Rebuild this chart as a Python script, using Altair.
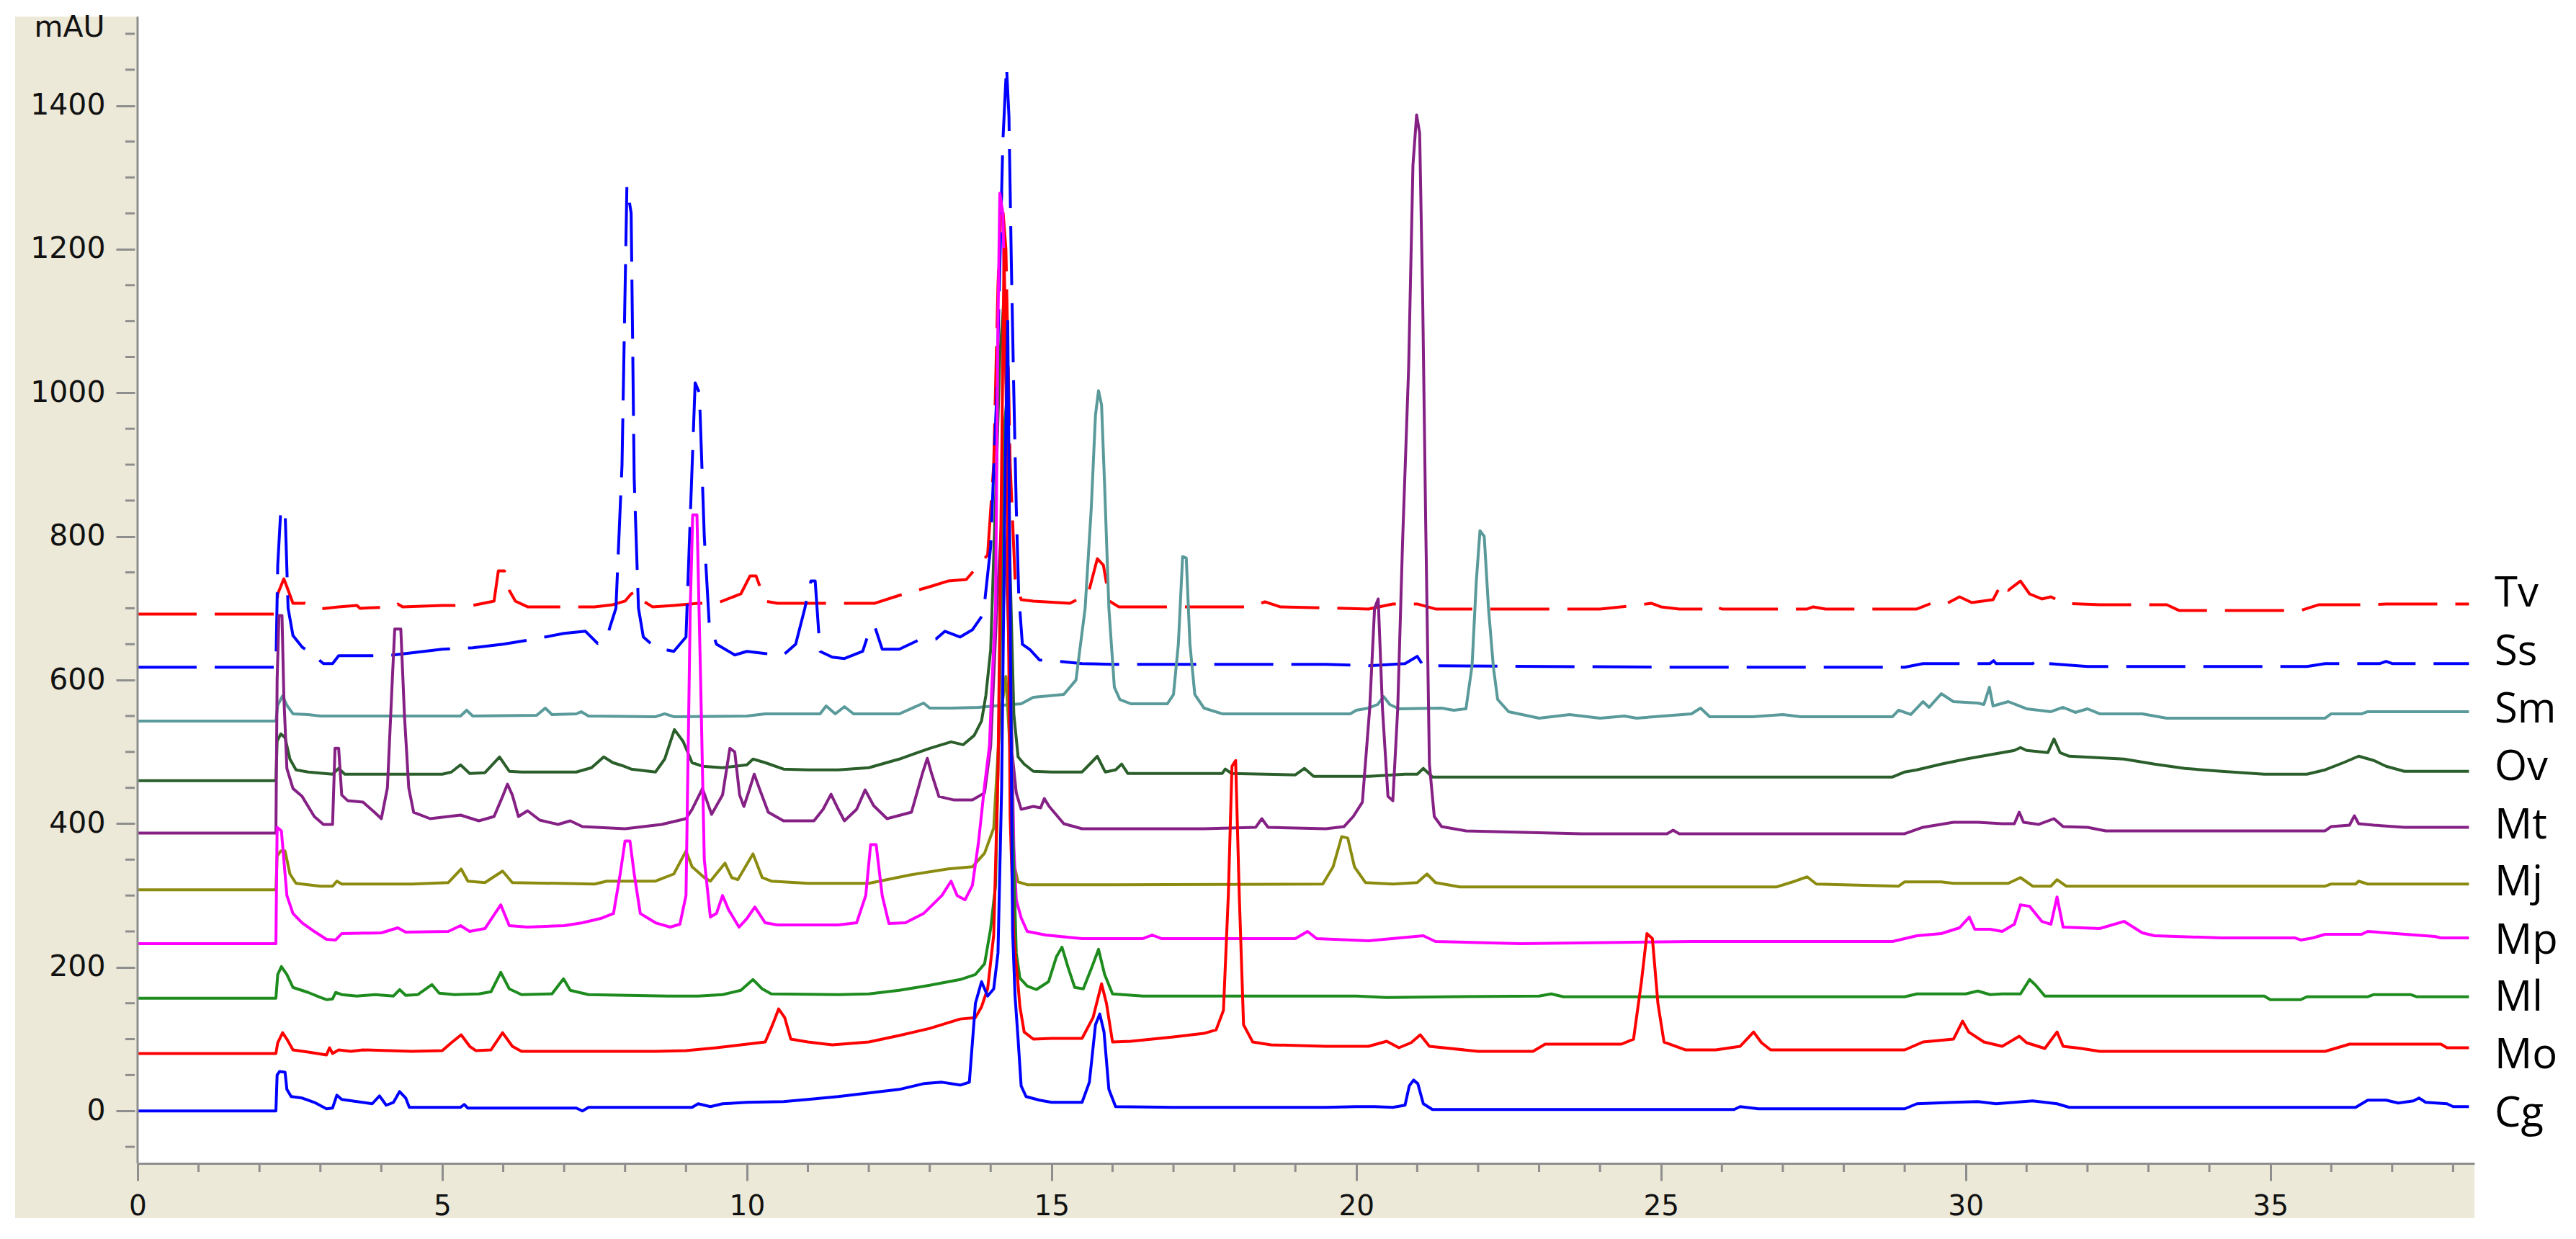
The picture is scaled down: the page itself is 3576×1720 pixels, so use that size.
import altair as alt
import pandas as pd

# ---------------- data ----------------
SERIES = ["Tv", "Ss", "Sm", "Ov", "Mt", "Mj", "Mp", "Ml", "Mo", "Cg"]

TV = [(0,692),(2.27,692),(2.3,720),(2.4,741),(2.45,730),(2.55,707),(2.75,707),(3.0,699),(3.3,702),(3.6,704),(3.65,700),
      (4.2,702),(4.27,706),(4.35,702),(5.0,704),(5.5,704),(5.85,710),(5.92,752),(6.02,752),(6.1,725),(6.2,710),(6.4,702),
      (7.5,702),(7.8,705),(8.0,710),(8.1,720),(8.2,724),(8.3,710),(8.45,702),(8.8,704),(9.2,707),(9.5,707),(9.9,720),
      (10.05,745),(10.15,745),(10.3,710),(10.5,707),(11.5,707),(12.1,707),(12.5,718),(13.0,730),(13.3,738),(13.6,740),
      (13.85,765),(13.95,774),(14.05,900),(14.12,1150),(14.18,1278),(14.25,1200),(14.32,900),(14.4,742),(14.5,712),
      (14.7,710),(15.3,707),(15.6,720),(15.75,769),(15.85,760),(15.95,710),(16.1,702),(18.3,702),(18.5,709),(18.75,702),
      (20.2,699),(20.6,706),(21.0,706),(21.3,699),(24.0,699),(24.6,704),(24.84,707),(25.0,702),(25.3,699),(25.8,699),
      (25.85,703),(26.0,699),(27.4,699),(27.5,702),(27.7,699),(29.2,699),(29.5,709),(29.7,707),(29.9,716),(30.1,708),
      (30.45,712),(30.6,736),(30.7,725),(30.9,738),(31.05,720),(31.25,713),(31.4,716),(31.6,707),(32.2,705),(33.3,705),
      (33.5,697),(35.5,697),(35.8,705),(36.7,705),(36.9,706),(38.26,706)]

SS = [(0,618),(2.27,618),(2.3,760),(2.35,837),(2.42,837),(2.47,700),(2.55,662),(2.7,646),(2.85,637),(3.05,623),(3.2,623),
      (3.3,634),(4.0,634),(4.2,635),(5.0,643),(5.5,645),(6.0,650),(6.5,657),(7.0,665),(7.35,668),(7.55,651),(7.7,660),
      (7.85,700),(7.95,900),(8.03,1288),(8.1,1250),(8.15,880),(8.22,700),(8.3,660),(8.5,645),(8.8,640),(9.0,660),
      (9.08,850),(9.15,1014),(9.22,1000),(9.3,800),(9.38,680),(9.5,650),(9.8,635),(10.0,640),(10.3,637),(10.6,635),
      (10.8,650),(10.95,700),(11.05,738),(11.12,738),(11.2,640),(11.4,632),(11.6,630),(11.9,640),(12.03,674),(12.1,674),
      (12.22,643),(12.5,643),(12.8,655),(13.1,657),(13.25,668),(13.5,660),(13.7,670),(13.88,692),(14.0,786),(14.1,1000),
      (14.2,1350),(14.26,1455),(14.3,1385),(14.34,1177),(14.38,1000),(14.42,840),(14.46,720),(14.52,650),(14.65,642),
      (14.8,628),(15.0,627),(15.5,623),(16.0,622),(19.5,622),(20.2,620),(20.8,623),(21.0,633),(21.1,620),(25.0,618),
      (29.0,618),(29.3,623),(30.4,623),(30.46,627),(30.5,623),(31.1,623),(31.24,630),(31.35,623),(32.0,619),(35.6,619),
      (35.9,623),(36.8,623),(36.9,626),(37.0,623),(38.26,623)]

SM = [(0,543),(2.27,543),(2.3,565),(2.38,578),(2.45,565),(2.55,553),(2.8,552),(3.0,550),(5.3,550),(5.4,558),(5.5,550),
      (6.55,551),(6.69,561),(6.8,552),(7.2,553),(7.28,556),(7.4,550),(8.5,549),(8.65,553),(8.8,549),(10.0,550),(10.3,553),
      (11.2,553),(11.3,564),(11.45,553),(11.6,563),(11.75,553),(12.5,553),(12.9,568),(13.0,561),(13.35,561),(13.8,562),
      (14.2,565),(14.5,567),(14.7,576),(15.2,580),(15.4,600),(15.55,700),(15.65,838),(15.72,969),(15.77,1003),
      (15.82,983),(15.87,871),(15.94,700),(16.03,590),(16.12,573),(16.3,567),(16.9,567),(17.0,580),(17.08,650),
      (17.15,772),(17.21,770),(17.27,650),(17.35,580),(17.5,561),(17.8,553),(19.9,553),(20.0,558),(20.2,561),(20.35,566),
      (20.45,577),(20.55,566),(20.7,560),(21.4,561),(21.6,558),(21.8,560),(21.9,620),(21.97,738),(22.03,808),(22.1,800),
      (22.17,700),(22.25,618),(22.32,573),(22.5,556),(23.0,547),(23.5,552),(24.0,547),(24.4,550),(24.6,547),(25.5,553),
      (25.65,561),(25.8,549),(26.5,549),(27.0,552),(27.3,549),(28.8,549),(28.9,558),(29.1,552),(29.3,570),(29.4,562),
      (29.6,581),(29.8,570),(30.2,568),(30.3,566),(30.39,590),(30.45,564),(30.7,570),(31.0,560),(31.4,556),(31.6,562),
      (31.8,555),(32.0,560),(32.2,553),(32.9,553),(33.3,547),(35.9,547),(36.0,553),(36.5,553),(36.6,556),(38.26,556)]

OV = [(0,460),(2.27,460),(2.29,515),(2.35,525),(2.42,520),(2.5,490),(2.6,475),(2.8,472),(3.2,469),(3.3,477),(3.4,469),
      (5.0,469),(5.15,472),(5.3,482),(5.45,470),(5.7,471),(5.94,493),(6.1,473),(6.3,472),(7.2,472),(7.45,478),(7.65,493),
      (7.8,485),(7.95,481),(8.1,476),(8.5,472),(8.65,490),(8.81,531),(8.95,515),(9.1,485),(9.27,480),(9.6,478),(10.0,482),
      (10.1,490),(10.3,485),(10.6,476),(11.0,475),(11.5,475),(12.0,478),(12.5,490),(13.0,505),(13.35,514),(13.55,510),
      (13.73,523),(13.85,543),(13.92,578),(14.0,642),(14.08,850),(14.15,1050),(14.21,1121),(14.26,1000),(14.32,750),
      (14.38,553),(14.45,493),(14.55,483),(14.7,473),(15.0,472),(15.5,472),(15.65,485),(15.75,494),(15.88,472),
      (16.05,475),(16.15,483),(16.25,470),(17.8,470),(17.85,476),(17.95,470),(19.0,468),(19.15,477),(19.3,466),
      (20.2,466),(20.8,469),(21.0,469),(21.1,477),(21.25,465),(28.8,465),(29.0,472),(29.2,475),(29.6,483),(30.0,490),
      (30.4,496),(30.8,502),(30.9,506),(31.0,502),(31.35,499),(31.45,518),(31.55,499),(31.7,494),(32.6,490),(33.1,483),
      (33.6,477),(34.2,473),(34.9,469),(35.6,469),(35.9,475),(36.2,485),(36.45,494),(36.7,488),(36.9,480),(37.2,473),
      (38.26,473)]

MT = [(0,387),(2.27,387),(2.29,600),(2.32,690),(2.37,690),(2.4,578),(2.45,477),(2.55,449),(2.7,438),(2.9,410),(3.05,399),
      (3.2,399),(3.24,505),(3.3,505),(3.35,440),(3.45,432),(3.7,430),(3.9,415),(4.0,407),(4.1,450),(4.18,600),(4.22,671),
      (4.32,671),(4.38,550),(4.45,450),(4.53,416),(4.8,407),(5.3,412),(5.6,404),(5.85,410),(6.0,440),(6.07,455),
      (6.15,440),(6.25,410),(6.4,418),(6.6,405),(6.9,399),(7.1,404),(7.3,396),(8.0,393),(8.6,399),(9.0,407),(9.1,420),
      (9.27,449),(9.35,430),(9.42,413),(9.6,440),(9.72,505),(9.8,500),(9.88,440),(9.95,424),(10.05,450),(10.12,469),
      (10.2,450),(10.35,416),(10.6,404),(11.1,404),(11.25,420),(11.38,441),(11.5,420),(11.6,404),(11.8,420),(11.94,447),
      (12.08,425),(12.3,407),(12.7,416),(12.88,470),(12.96,491),(13.03,470),(13.15,438),(13.4,433),(13.7,433),
      (13.9,443),(14.0,508),(14.1,700),(14.2,855),(14.28,700),(14.35,500),(14.42,443),(14.5,420),(14.7,424),(14.82,422),
      (14.88,435),(14.96,424),(15.2,400),(15.5,393),(17.5,393),(18.35,395),(18.45,407),(18.55,395),(19.5,393),
      (19.8,396),(19.95,410),(20.1,430),(20.22,560),(20.3,700),(20.36,713),(20.43,560),(20.52,438),(20.6,432),
      (20.68,560),(20.76,793),(20.86,1037),(20.93,1317),(20.99,1387),(21.04,1362),(21.09,1129),(21.14,815),
      (21.2,483),(21.28,410),(21.4,396),(21.8,390),(23.7,386),(25.1,386),(25.2,391),(25.3,386),(29.0,386),(29.3,395),
      (29.8,402),(30.2,402),(30.6,400),(30.8,400),(30.88,416),(30.95,402),(31.2,399),(31.45,407),(31.6,396),(32.0,395),
      (32.3,390),(35.9,390),(36.0,396),(36.3,398),(36.38,411),(36.45,400),(36.7,398),(37.2,395),(37.6,395),(38.26,395)]

MJ = [(0,308),(2.27,308),(2.29,355),(2.35,362),(2.42,362),(2.5,330),(2.6,317),(3.0,313),(3.2,313),(3.27,320),(3.35,316),
      (4.5,316),(5.1,318),(5.31,337),(5.42,320),(5.7,318),(5.99,334),(6.15,318),(7.5,316),(7.7,320),(8.5,320),(8.8,330),
      (9.0,362),(9.1,340),(9.3,325),(9.4,320),(9.64,345),(9.75,325),(9.85,322),(10.1,358),(10.25,325),(10.4,320),
      (11.0,317),(12.0,317),(12.7,329),(13.3,337),(13.7,340),(13.9,359),(14.05,394),(14.15,543),(14.25,605),(14.32,500),
      (14.38,344),(14.45,319),(14.6,315),(16.0,315),(19.45,316),(19.62,340),(19.76,382),(19.86,380),(19.97,340),
      (20.15,318),(20.6,316),(21.0,318),(21.16,330),(21.3,318),(21.7,312),(26.9,312),(27.2,320),(27.4,326),(27.55,316),
      (28.9,313),(29.0,319),(29.6,319),(29.8,317),(30.7,317),(30.9,325),(31.1,313),(31.4,313),(31.5,322),(31.65,313),
      (35.9,313),(36.0,316),(36.4,316),(36.45,320),(36.6,316),(38.26,316)]

MP = [(0,233),(2.27,233),(2.29,395),(2.36,390),(2.45,300),(2.55,275),(2.7,262),(2.9,250),(3.1,239),(3.25,238),(3.35,247),
      (4.0,248),(4.27,255),(4.4,249),(5.1,250),(5.3,258),(5.45,250),(5.7,254),(5.96,287),(6.1,258),(6.4,256),(7.0,258),
      (7.3,262),(7.6,268),(7.81,275),(7.92,330),(8.0,376),(8.08,376),(8.15,330),(8.25,275),(8.5,262),(8.74,256),
      (8.9,260),(9.0,300),(9.07,700),(9.11,830),(9.18,830),(9.24,600),(9.3,350),(9.4,270),(9.5,275),(9.6,300),(9.7,280),
      (9.87,256),(10.0,268),(10.13,284),(10.3,262),(10.5,259),(11.5,259),(11.8,262),(11.95,300),(12.03,371),(12.12,371),
      (12.22,300),(12.33,261),(12.6,262),(12.9,275),(13.2,300),(13.35,320),(13.45,300),(13.58,294),(13.7,314),
      (13.8,374),(13.9,453),(13.98,508),(14.02,593),(14.08,700),(14.12,1100),(14.15,1278),(14.2,1250),(14.26,1000),
      (14.33,600),(14.38,369),(14.42,294),(14.5,269),(14.6,250),(14.9,245),(15.5,240),(16.5,240),(16.65,245),(16.8,240),
      (19.0,240),(19.2,250),(19.35,240),(20.2,237),(21.1,244),(21.3,236),(22.7,233),(25.5,236),(26.3,236),(28.8,236),
      (29.2,244),(29.6,247),(29.9,255),(30.06,270),(30.15,253),(30.4,253),(30.6,250),(30.8,260),(30.9,287),(31.05,285),
      (31.25,264),(31.4,260),(31.5,298),(31.6,256),(32.2,254),(32.6,264),(32.9,248),(33.1,244),(34.2,241),(35.4,241),
      (35.5,238),(35.7,241),(35.9,246),(36.5,246),(36.6,250),(37.7,243),(37.8,241),(38.26,241)]

ML = [(0,157),(2.27,157),(2.3,190),(2.36,201),(2.45,190),(2.55,172),(2.8,165),(3.0,158),(3.1,155),(3.2,156),(3.25,165),
      (3.35,162),(3.6,160),(3.9,162),(4.2,160),(4.3,169),(4.4,161),(4.6,162),(4.83,176),(4.95,164),(5.2,162),(5.6,163),
      (5.8,166),(5.96,193),(6.1,170),(6.3,162),(6.8,163),(6.99,184),(7.1,168),(7.4,162),(8.7,160),(9.2,160),(9.6,162),
      (9.9,168),(10.1,183),(10.25,170),(10.4,163),(11.5,162),(12.0,163),(12.5,168),(13.0,175),(13.5,183),(13.75,190),
      (13.9,205),(14.0,254),(14.08,314),(14.15,600),(14.22,950),(14.26,985),(14.3,800),(14.36,400),(14.42,220),
      (14.48,185),(14.6,174),(14.75,169),(14.95,180),(15.08,215),(15.17,228),(15.27,200),(15.38,172),(15.52,170),
      (15.66,200),(15.77,225),(15.87,190),(16.0,163),(16.5,160),(20.0,160),(20.5,158),(21.5,159),(23.0,160),(23.2,163),
      (23.4,159),(29.0,159),(29.2,163),(30.0,163),(30.2,167),(30.4,162),(30.6,163),(30.9,163),(31.05,183),(31.15,175),
      (31.3,160),(34.9,160),(35.0,155),(35.5,155),(35.6,159),(36.6,159),(36.7,162),(37.3,162),(37.4,159),(38.26,159)]

MO = [(0,80),(2.27,80),(2.3,95),(2.38,109),(2.45,100),(2.55,85),(2.8,82),(3.1,78),(3.15,88),(3.2,80),(3.3,85),(3.5,83),
      (3.7,85),(4.5,83),(5.0,84),(5.15,95),(5.31,106),(5.45,90),(5.55,84),(5.8,85),(5.99,109),(6.15,90),(6.3,83),
      (8.5,83),(9.0,84),(9.5,88),(10.0,93),(10.3,96),(10.42,120),(10.52,142),(10.62,130),(10.72,100),(11.0,96),
      (11.4,92),(12.0,96),(12.5,105),(13.0,115),(13.5,128),(13.75,130),(13.85,145),(13.95,170),(14.05,245),(14.12,470),
      (14.18,900),(14.22,1200),(14.27,900),(14.32,409),(14.38,240),(14.44,185),(14.48,145),(14.55,110),(14.7,100),
      (15.0,101),(15.5,101),(15.68,130),(15.82,177),(15.9,150),(16.0,96),(16.3,97),(17.0,103),(17.5,108),(17.7,113),
      (17.82,140),(17.9,300),(17.96,480),(18.02,488),(18.08,300),(18.15,120),(18.3,96),(18.6,92),(19.5,90),(20.2,90),
      (20.5,97),(20.7,88),(20.9,95),(21.05,106),(21.2,90),(22.0,83),(22.9,83),(23.1,93),(24.35,93),(24.55,100),
      (24.68,180),(24.77,247),(24.86,240),(24.95,150),(25.05,96),(25.4,85),(25.9,85),(26.3,90),(26.52,110),(26.65,95),
      (26.8,85),(29.0,85),(29.3,96),(29.8,100),(29.95,125),(30.05,110),(30.3,96),(30.6,90),(30.88,104),(31.0,95),
      (31.3,87),(31.5,110),(31.6,90),(31.9,87),(32.2,83),(35.9,83),(36.3,93),(37.8,93),(37.9,88),(38.26,88)]

CG = [(0,0),(2.27,0),(2.29,50),(2.33,55),(2.42,54),(2.45,30),(2.52,20),(2.7,18),(2.9,12),(3.1,3),(3.2,4),(3.27,22),
      (3.35,16),(3.6,13),(3.85,10),(3.97,21),(4.08,8),(4.2,12),(4.3,27),(4.4,18),(4.46,5),(5.3,5),(5.36,9),(5.42,4),
      (7.2,4),(7.3,0),(7.4,5),(8.5,5),(9.1,5),(9.2,10),(9.4,6),(9.6,10),(10.0,12),(10.6,13),(11.0,16),(11.5,20),
      (12.0,25),(12.5,30),(12.9,38),(13.2,40),(13.5,36),(13.65,40),(13.75,150),(13.85,180),(13.95,160),(14.05,170),
      (14.12,220),(14.18,450),(14.24,900),(14.28,1100),(14.32,700),(14.36,250),(14.4,160),(14.45,100),(14.5,35),
      (14.58,20),(14.8,15),(15.0,12),(15.5,12),(15.62,40),(15.72,120),(15.79,135),(15.86,110),(15.94,30),(16.05,6),
      (17.0,5),(19.5,5),(20.0,6),(20.3,6),(20.6,5),(20.8,8),(20.87,35),(20.94,43),(21.01,38),(21.1,10),(21.25,2),
      (26.2,2),(26.3,6),(26.6,3),(29.0,3),(29.2,10),(29.8,12),(30.2,13),(30.5,10),(30.8,12),(31.1,14),(31.5,10),
      (31.7,5),(36.4,5),(36.6,15),(36.9,15),(37.1,11),(37.35,14),(37.44,18),(37.55,12),(37.9,10),(38.0,6),(38.26,6)]

TRACES = {"Tv": TV, "Ss": SS, "Sm": SM, "Ov": OV, "Mt": MT, "Mj": MJ, "Mp": MP, "Ml": ML, "Mo": MO, "Cg": CG}

COLORS = {"Tv": "#FF0000", "Ss": "#0000FF", "Sm": "#5A9A9A", "Ov": "#2A5E2A", "Mt": "#852085",
          "Mj": "#8B8B10", "Mp": "#FF00FF", "Ml": "#1E8B1E", "Mo": "#FF0000", "Cg": "#0000FF"}
DASHED = ["Tv", "Ss"]

# label anchors (mAU)
LABEL_MAU = [719, 638, 558, 478, 396, 317, 236, 157, 76, -5]

Y_MAJOR = [0, 200, 400, 600, 800, 1000, 1200, 1400]
Y_MINOR = [-50, 50, 100, 150, 250, 300, 350, 450, 500, 550, 650, 700, 750, 850, 900, 950,
           1050, 1100, 1150, 1250, 1300, 1350, 1450, 1500]
X_MAJOR = [0, 5, 10, 15, 20, 25, 30, 35]
X_MINOR = [1, 2, 3, 4, 6, 7, 8, 9, 11, 12, 13, 14, 16, 17, 18, 19, 21, 22, 23, 24,
           26, 27, 28, 29, 31, 32, 33, 34, 36, 37, 38]

X_DOMAIN = [0, 38.35]
Y_DOMAIN = [-73, 1524]

# ---------------- layout / style ----------------
W, H = 3244, 1592
BEIGE = "#ECE9D8"
GRAY = "#8E8E8E"
NUM_FONT = "DejaVu Sans"

xs = alt.Scale(domain=X_DOMAIN, nice=False, zero=False)
ys = alt.Scale(domain=Y_DOMAIN, nice=False, zero=False)

xaxis = alt.Axis(values=X_MAJOR, tickSize=24, tickWidth=3, tickColor=GRAY, domainColor=GRAY,
                 domainWidth=3, labelFont=NUM_FONT, labelFontSize=39, labelColor="#111111",
                 labelPadding=16, labelFlush=False, title=None, grid=False, zindex=1, format="d")
yaxis = alt.Axis(values=Y_MAJOR, tickSize=26, tickWidth=3, tickColor=GRAY, domain=False, offset=4,
                 labelFont=NUM_FONT, labelFontSize=41, labelColor="#111111", labelPadding=15,
                 grid=False, zindex=1, format="d", title="mAU", titleAngle=0, titleX=-42, titleY=15,
                 titleAlign="right", titleBaseline="middle", titleFont=NUM_FONT, titleFontSize=41,
                 titleFontWeight="normal", titleColor="#111111")

dummy = pd.DataFrame({"k": [0]})

left_panel = alt.Chart(dummy).mark_rect(color=BEIGE).encode(
    x=alt.value(-170), x2=alt.value(0), y=alt.value(0), y2=alt.value(H + 76))
bottom_panel = alt.Chart(dummy).mark_rect(color=BEIGE).encode(
    x=alt.value(0), x2=alt.value(W), y=alt.value(H), y2=alt.value(H + 76))

layers = [left_panel, bottom_panel]

for name in SERIES:
    pts = TRACES[name]
    df = pd.DataFrame({"t": [p[0] for p in pts], "v": [p[1] for p in pts]})
    kw = dict(color=COLORS[name], strokeWidth=4, strokeJoin="round")
    if name in DASHED:
        kw["strokeDash"] = [82, 25]
    layers.append(
        alt.Chart(df).mark_line(**kw).encode(
            x=alt.X("t:Q", scale=xs, axis=xaxis),
            y=alt.Y("v:Q", scale=ys, axis=yaxis),
        )
    )

ymin_df = pd.DataFrame({"yt": Y_MINOR})
layers.append(alt.Chart(ymin_df).mark_rule(color=GRAY, strokeWidth=3).encode(
    y=alt.Y("yt:Q", scale=ys, axis=yaxis), x=alt.value(-17), x2=alt.value(-4)))

xmin_df = pd.DataFrame({"xt": X_MINOR})
layers.append(alt.Chart(xmin_df).mark_rule(color=GRAY, strokeWidth=3).encode(
    x=alt.X("xt:Q", scale=xs, axis=xaxis), y=alt.value(H), y2=alt.value(H + 12)))

# y axis line
layers.append(alt.Chart(dummy).mark_rule(color=GRAY, strokeWidth=3).encode(
    x=alt.value(0), y=alt.value(0), y2=alt.value(H)))

lab_df = pd.DataFrame({"name": SERIES, "lv": LABEL_MAU})
layers.append(alt.Chart(lab_df).mark_text(align="left", baseline="middle", font="Open Sans",
                                          fontSize=58, color="#000000").encode(
    x=alt.value(W + 28), y=alt.Y("lv:Q", scale=ys, axis=yaxis), text="name:N"))

chart = alt.layer(*layers).properties(
    width=W, height=H,
    padding={"left": 183, "top": 15, "right": 128, "bottom": 80},
    autosize=alt.AutoSizeParams(type="none"),
    background="white",
).configure_view(strokeWidth=0)

chart.save("out.html", embed_options={"renderer": "svg", "actions": False})
